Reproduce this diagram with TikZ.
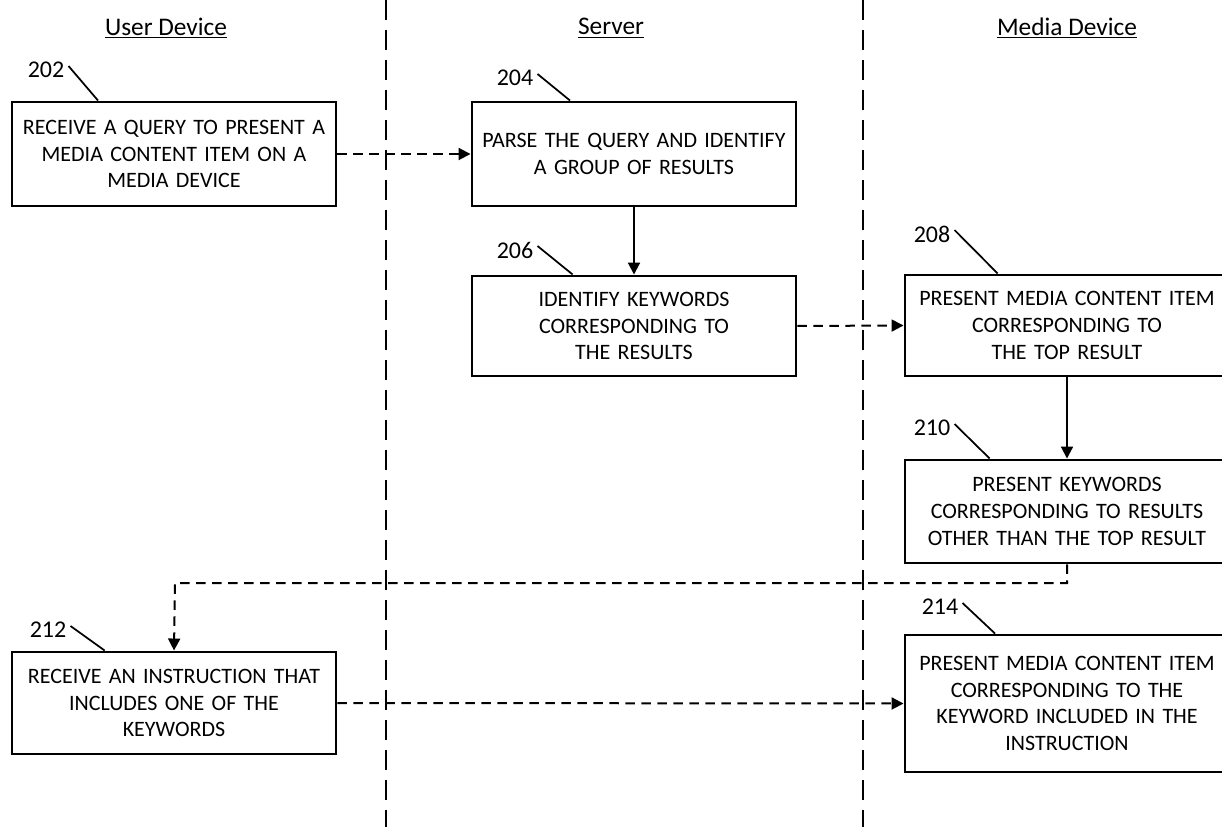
\documentclass[tikz,border=0pt]{standalone}
\usepackage{fontspec}
\setmainfont{Carlito}
\usetikzlibrary{arrows.meta}
\begin{document}
\begin{tikzpicture}[x=0.75pt,y=-0.75pt,
  box/.style={draw=black, line width=2.2pt, fill=white, rectangle, inner sep=0pt,
    minimum width=243pt, text width=238pt, align=center,
    font=\fontsize{16.5}{20}\selectfont},
  lane/.style={line width=2pt, dash pattern=on 15pt off 7.5pt},
  flow/.style={line width=1.5pt, -{Triangle[length=9pt,width=9pt]}},
  dflow/.style={flow, dash pattern=on 7pt off 5pt},
  hdr/.style={font=\fontsize{19}{22}\selectfont},
  num/.style={font=\fontsize{18}{20}\selectfont, inner sep=0pt},
  lead/.style={line width=1.3pt}]
\useasboundingbox (0,0) rectangle (1222,827);
\clip (0,0) rectangle (1222,827);
\fill[white] (0,0) rectangle (1222,827);

% lane dividers
\coordinate (l1t) at (386,0); \coordinate (l1b) at (386,827);
\coordinate (l2t) at (863,0); \coordinate (l2b) at (863,827);
\draw[lane] (l1t) -- (l1b);
\draw[lane] (l2t) -- (l2b);

% headers
\node[hdr] (h1) at (166,28) {\underline{User Device}};
\node[hdr] (h2) at (611,28) {\underline{Server}};
\node[hdr] (h3) at (1067,28) {\underline{Media Device}};

% boxes
\node[box, minimum height=78pt] (b202) at (174,154) {RECEIVE A QUERY TO PRESENT A\\MEDIA CONTENT ITEM ON A\\MEDIA DEVICE};
\node[box, minimum height=78pt] (b204) at (634,154) {PARSE THE QUERY AND IDENTIFY\\A GROUP OF RESULTS};
\node[box, minimum height=75pt] (b206) at (634,326) {IDENTIFY KEYWORDS\\CORRESPONDING TO\\THE RESULTS};
\node[box, minimum height=75.75pt] (b208) at (1067,325.5) {PRESENT MEDIA CONTENT ITEM\\CORRESPONDING TO\\THE TOP RESULT};
\node[box, minimum height=77.25pt] (b210) at (1067,511.5) {PRESENT KEYWORDS\\CORRESPONDING TO RESULTS\\OTHER THAN THE TOP RESULT};
\node[box, minimum height=76.5pt] (b212) at (174,703) {RECEIVE AN INSTRUCTION THAT\\INCLUDES ONE OF THE\\KEYWORDS};
\node[box, minimum height=102.75pt] (b214) at (1067,703.5) {PRESENT MEDIA CONTENT ITEM\\CORRESPONDING TO THE\\KEYWORD INCLUDED IN THE\\INSTRUCTION};

% reference numbers
\node[num] (t202) at (46,70) {202};
\node[num] (t204) at (515,78) {204};
\node[num] (t206) at (515,250) {206};
\node[num] (t208) at (932,234) {208};
\node[num] (t210) at (932,428) {210};
\node[num] (t212) at (48,630) {212};
\node[num] (t214) at (940,607) {214};
\draw[lead] (t202.east) ++(3pt,3pt) -- ([xshift=-57pt]b202.north);
\draw[lead] (t204.east) ++(3pt,3pt) -- ([xshift=-48pt]b204.north);
\draw[lead] (t206.east) ++(3pt,3pt) -- ([xshift=-46pt]b206.north);
\draw[lead] (t208.east) ++(3pt,3pt) -- ([xshift=-52pt]b208.north);
\draw[lead] (t210.east) ++(3pt,3pt) -- ([xshift=-58pt]b210.north);
\draw[lead] (t212.east) ++(3pt,3pt) -- ([xshift=-52pt]b212.north);
\draw[lead] (t214.east) ++(3pt,3pt) -- ([xshift=-54pt]b214.north);

% connectors
\draw[dflow] (b202.east) -- (b204.west);
\draw[flow] (b204.south) -- (b206.north);
\draw[dflow] (b206.east) -- (b208.west);
\draw[flow] (b208.south) -- (b210.north);
\coordinate (c1) at (1067,583);
\coordinate (c2) at (175,583);
\draw[dflow] (b210.south) -- (c1) -- (c2) -- (b212.north);
\draw[dflow] (b212.east) -- (b214.west);
\end{tikzpicture}
\end{document}
